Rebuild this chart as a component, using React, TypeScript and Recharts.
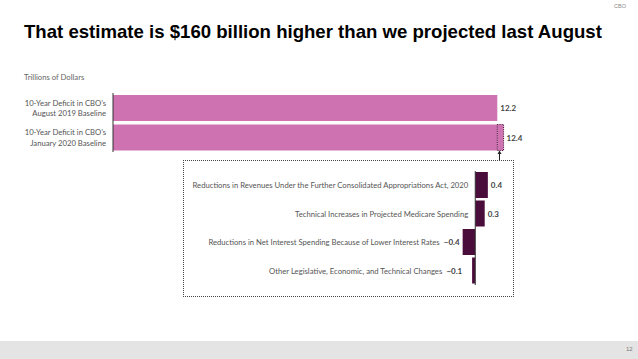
import React from 'react';
import { BarChart, Bar, XAxis, YAxis, LabelList, ReferenceLine } from 'recharts';

// baseline totals, trillions of dollars
const baselineNames = ['10-Year Deficit in CBO’s\nAugust 2019 Baseline', '10-Year Deficit in CBO’s\nJanuary 2020 Baseline'];
const baselineBase = [12.2, 12.2];
const baselineChange = [0, 0.2];
const baselineTotals = [12.2, 12.4];

// components of the change
const changeNames = [
    'Reductions in Revenues Under the Further Consolidated Appropriations Act, 2020',
    'Technical Increases in Projected Medicare Spending',
    'Reductions in Net Interest Spending Because of Lower Interest Rates',
    'Other Legislative, Economic, and Technical Changes',
];
const changeValues = [0.4, 0.3, -0.4, -0.1];

const PINK = '#ce72b1';
const PLUM = '#4a0c3b';
const FONT = 'Lato, "Liberation Sans", Arial, sans-serif';
const FS = 7.7;

const fmt = (v: number) => (v < 0 ? '\u2212' + Math.abs(v).toFixed(1) : v.toFixed(1));

const topData = baselineNames.map((name, i) => ({
    name,
    base: baselineBase[i],
    change: baselineChange[i],
    total: baselineTotals[i],
}));

const lowData = changeNames.map((name, i) => ({ name, value: changeValues[i] }));

const BaselineTick = (props: any) => {
    const lines = String(props.payload.value).split('\n');
    return (
        <text x={106} y={props.y} textAnchor="end" fontFamily={FONT} fontSize={FS} fill="#555">
            <tspan x={106} dy={-2.2}>{lines[0]}</tspan>
            <tspan x={106} dy={10.6}>{lines[1]}</tspan>
        </text>
    );
};

// label sits on the base bar; its end is found from the base bar's own pixels per unit
const TotalLabel = (props: any) => {
    const { x, y, width, height, index } = props;
    const end = x + (width * baselineTotals[index]) / baselineBase[index];
    return (
        <text x={end + 3} y={y + height / 2 + 3} fontFamily={FONT} fontSize={8} fontWeight="bold" fill="#444">
            {fmt(baselineTotals[index])}
        </text>
    );
};

const ChangeLabel = (props: any) => {
    const { x, y, width, height, index } = props;
    const v = changeValues[index];
    const left = Math.min(x, x + width);
    const right = Math.max(x, x + width);
    const cy = y + height / 2 + 3;
    if (v >= 0) {
        return (
            <g>
                <text x={left - 7} y={cy} textAnchor="end" fontFamily={FONT} fontSize={FS} fill="#555">{changeNames[index]}</text>
                <text x={right + 3} y={cy} fontFamily={FONT} fontSize={8} fontWeight="bold" fill="#444">{fmt(v)}</text>
            </g>
        );
    }
    const valEnd = Math.min(left - 3, right - 13);
    return (
        <g>
            <text x={valEnd - 20} y={cy} textAnchor="end" fontFamily={FONT} fontSize={FS} fill="#555">{changeNames[index]}</text>
            <text x={valEnd} y={cy} textAnchor="end" fontFamily={FONT} fontSize={8} fontWeight="bold" fill="#444">{fmt(v)}</text>
        </g>
    );
};

export default function App() {
    return (
        <div style={{ position: 'absolute', left: 0, top: 0, width: 638, height: 359, background: '#fff', overflow: 'hidden', fontFamily: '"Liberation Sans", Arial, sans-serif' }}>
            <div style={{ position: 'absolute', left: 614, top: 3, fontSize: 5.5, color: '#888' }}>CBO</div>
            <div style={{ position: 'absolute', left: 24, top: 21, fontSize: 18.6, fontWeight: 'bold', color: '#000', whiteSpace: 'nowrap' }}>
                That estimate is $160 billion higher than we projected last August
            </div>
            <div style={{ position: 'absolute', left: 24, top: 72, fontSize: FS, color: '#666', fontFamily: FONT }}>Trillions of Dollars</div>

            <div style={{ position: 'absolute', left: 0, top: 88 }}>
                <BarChart width={554} height={68} data={topData} layout="vertical" barSize={26} barCategoryGap={0}
                    margin={{ top: 5, right: 0, left: 0, bottom: 4 }}>
                    <XAxis type="number" domain={[0, 14]} hide />
                    <YAxis type="category" dataKey="name" width={113} interval={0} axisLine={{ stroke: '#333' }} tickLine={false} tick={<BaselineTick />} />
                    <Bar dataKey="base" stackId="a" fill={PINK} isAnimationActive={false}>
                        <LabelList dataKey="total" content={<TotalLabel />} />
                    </Bar>
                    <Bar dataKey="change" stackId="a" fill={PINK} stroke="#3a0a2c" strokeDasharray="1 1.2" strokeWidth={1} isAnimationActive={false} />
                </BarChart>
            </div>

            <svg style={{ position: 'absolute', left: 495, top: 149 }} width={10} height={14}>
                <line x1={4.5} y1={3} x2={4.5} y2={12} stroke="#222" strokeWidth={1} />
                <path d="M2.5 5 L4.5 1.5 L6.5 5 Z" fill="#222" />
            </svg>

            <div style={{ position: 'absolute', left: 183, top: 160, width: 329, height: 135, border: '1px dotted #444' }} />

            <div style={{ position: 'absolute', left: 0, top: 165 }}>
                <BarChart width={554} height={126} data={lowData} layout="vertical" barSize={26} barCategoryGap={0}
                    margin={{ top: 6, right: 0, left: 113, bottom: 6 }}>
                    <XAxis type="number" domain={[-11.5, 2.5]} hide />
                    <YAxis type="category" dataKey="name" hide />
                    <ReferenceLine x={0} stroke="#333" strokeWidth={1} />
                    <Bar dataKey="value" fill={PLUM} isAnimationActive={false}>
                        <LabelList dataKey="value" content={<ChangeLabel />} />
                    </Bar>
                </BarChart>
            </div>

            <div style={{ position: 'absolute', left: 0, top: 341, width: 638, height: 18, background: '#e4e4e4' }} />
            <div style={{ position: 'absolute', left: 626, top: 346, fontSize: 6, color: '#777' }}>12</div>
        </div>
    );
}
